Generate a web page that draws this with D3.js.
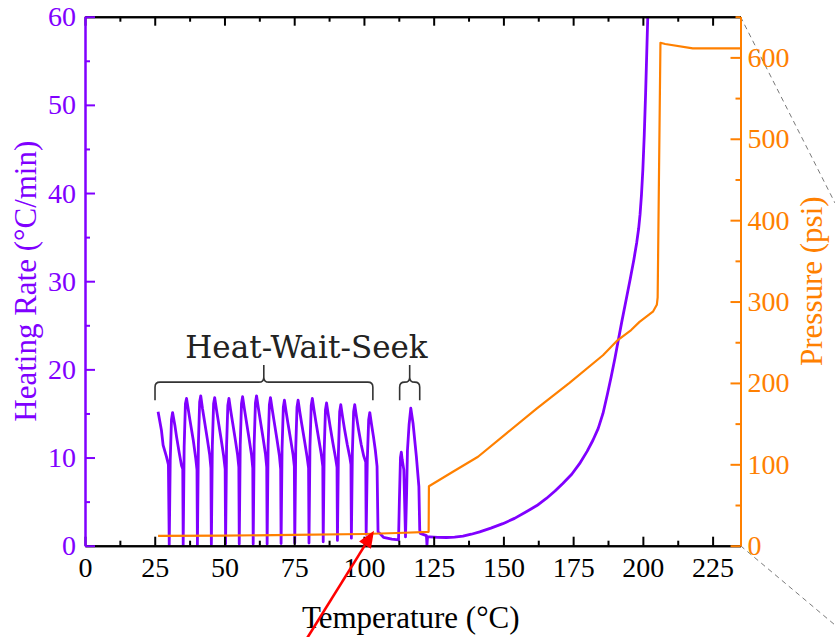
<!DOCTYPE html>
<html>
<head>
<meta charset="utf-8">
<script src="https://cdn.jsdelivr.net/npm/d3@7"></script>
<style>
  html, body { margin: 0; padding: 0; background: #fff; }
  svg { display: block; }
</style>
</head>
<body>
<svg id="chart" width="835" height="637"></svg>
<script>
// ---- Heating rate (°C/min) vs temperature (°C) ----
// Heat-Wait-Seek oscillations: each cycle heats to a peak, decays, then drops to ~0
const hwsRate = [
  [26.2,15.2],[27.4,13.1],[28.0,11.4],[29.2,10.1],[29.9,9.2],[30.2,0.1],
  [30.55,9.6],[31.0,14.3],[31.4,15.1],
  [32.2,13.7],[32.8,12.4],[33.8,10.5],[34.6,9.1],[35.05,8.7],[35.2,0.1],
  [35.55,11.2],[36.0,16.1],[36.4,16.7],
  [37.6,14.3],[38.8,12.0],[39.7,9.9],[40.15,8.6],[40.3,0.1],
  [40.65,11.5],[41.1,16.3],[41.5,17.0],
  [42.1,15.6],[42.8,14.2],[43.8,12.2],[44.7,10.3],[45.15,8.8],[45.3,0.15],
  [45.65,11.3],[46.1,16.1],[46.5,16.8],
  [47.1,15.5],[47.8,14.1],[48.8,12.1],[49.7,10.2],[50.25,8.7],[50.4,0.15],
  [50.75,11.2],[51.2,15.9],[51.6,16.7],
  [52.2,15.4],[52.9,14.0],[53.9,12.0],[54.7,10.3],[55.15,8.9],[55.3,0.2],
  [55.65,11.4],[56.1,16.1],[56.5,16.9],
  [57.1,15.6],[57.8,14.2],[58.8,12.2],[59.7,10.3],[60.15,8.8],[60.3,0.2],
  [60.65,11.5],[61.1,16.2],[61.5,17.0],
  [62.1,15.7],[62.8,14.3],[63.8,12.3],[64.7,10.4],[65.15,8.9],[65.3,0.2],
  [65.65,11.3],[66.1,16.0],[66.5,16.8],
  [67.1,15.5],[67.8,14.1],[68.8,12.1],[69.7,10.2],[70.15,8.7],[70.3,0.25],
  [70.65,11.0],[71.1,15.7],[71.5,16.5],
  [72.1,15.2],[72.8,13.8],[73.8,11.9],[74.6,10.3],[75.05,9.0],[75.2,0.3],
  [75.55,11.0],[76.0,15.7],[76.4,16.5],
  [77.0,15.2],[77.7,13.8],[78.7,11.9],[79.6,10.1],[80.15,8.8],[80.3,0.3],
  [80.65,11.2],[81.1,15.9],[81.5,16.7],
  [82.1,15.4],[82.8,14.0],[83.8,12.1],[84.7,10.4],[85.25,9.0],[85.4,0.45],
  [85.75,10.7],[86.2,15.4],[86.6,16.2],
  [87.2,14.9],[87.9,13.5],[88.9,11.6],[89.8,10.0],[90.35,8.9],[90.5,0.6],
  [90.85,10.5],[91.3,15.2],[91.7,16.0],
  [92.3,14.7],[93.0,13.3],[94.0,11.5],[94.9,10.1],[95.35,9.2],[95.5,0.85],
  [95.85,10.5],[96.3,15.2],[96.7,16.0],
  [97.3,14.7],[98.0,13.3],[99.0,11.5],[99.9,10.2],[100.65,9.5],[100.8,1.3],
  [101.2,9.6],[101.7,14.3],[102.1,15.1],
  [102.7,13.8],[103.4,12.4],[104.1,10.8],[104.7,9.0],[105.05,1.6]
];

// Wait period and the two short seek pulses before onset
const seekRate = [
  [107.0,0.95],[110.0,0.75],[112.4,0.65],[112.7,5.0],[113.1,10.0],[113.4,10.6],
  [113.7,9.8],[114.3,8.6],[114.9,1.0],[115.3,6.0],[115.6,10.8],[116.2,13.8],
  [116.8,15.6],[117.6,13.9],[118.8,10.1],[119.7,6.7],[120.0,1.8],[120.2,1.4],
  [122.4,1.15],[122.6,0.05],[122.8,1.0]
];

// Self-heating ramp after the exotherm is detected
const rampRate = [
  [123.6,1.0],[126.5,0.95],[129.6,0.93],[132.5,0.98],[135.5,1.08],[138.5,1.3],
  [141.5,1.57],[145.5,2.0],[149.8,2.5],[154.0,3.1],[158.2,3.85],[162.0,4.55],
  [165.4,5.36],[168.5,6.2],[171.3,7.06],[174.5,8.1],[177.3,9.3],[180.0,10.7],
  [182.1,11.96],[184.0,13.3],[185.7,15.0],[187.3,17.2],[188.6,19.1],[190.0,21.3],
  [191.0,23.0],[192.5,25.5],[194.0,27.9],[195.5,30.3],[196.8,32.5],[197.8,34.4],
  [198.5,36.0],[199.0,37.6],[199.5,39.8],[200.0,42.7],[200.5,46.6],[201.0,51.5],
  [201.4,56.0],[201.8,60.5]
];

// ---- Pressure (psi) vs temperature (°C) ----
const pressureLow = [
  [26.2,12.0],[50.0,12.5],[75.0,13.2],[100.0,14.4],[112.0,15.6],[123.2,17.0]
];
const pressureRamp = [
  [123.3,73.0],[131.9,90.9],[140.9,109.3],[151.1,138.1],[161.8,168.0],[173.7,200.0],
  [185.7,234.0],[191.0,252.7],[195.8,265.0],[198.8,275.0],[203.6,287.5],[205.0,296.0],
  [205.3,305.0]
];
const pressureHigh = [
  [206.3,618.0],[208.0,616.5],[217.9,611.0],[235.0,611.0]
];

// ---- Axis ticks ----
const tempTicks = [0, 25, 50, 75, 100, 125, 150, 175, 200, 225];
const tempMinor = [12.5, 37.5, 62.5, 87.5, 112.5, 137.5, 162.5, 187.5, 212.5];
const rateTicks = [0, 10, 20, 30, 40, 50, 60];
const rateMinor = [5, 15, 25, 35, 45, 55];
const pressTicks = [0, 100, 200, 300, 400, 500, 600];
const pressMinor = [50, 150, 250, 350, 450, 550, 650];

// ---- Annotations (data coordinates) ----
const hwsLabel = { text: "Heat-Wait-Seek", t: 79.4, v: 21.3 };
const braces = [
  { from: 25.1, to: 103.2, tip: 64.1 },
  { from: 112.8, to: 120.0, tip: 116.4 }
];
const braceLevels = { end: 16.5, bar: 18.55, top: 20.5 };
const onsetArrow = { from: [79.2, -10.7], to: [103.6, 1.7] };

const PURPLE = "#8000ff";
const ORANGE = "#ff8000";
const SERIF = "'Liberation Serif', 'Times New Roman', serif";

const svg = d3.select("#chart");
const W = 835, H = 637;
const L = 85, R = 740.5, T = 16.7, B = 545.7;

const x = d3.scaleLinear().domain([0, 235]).range([L, R]);
const yRate = d3.scaleLinear().domain([0, 60]).range([B, T]);
const yPress = d3.scaleLinear().domain([0, 650]).range([B, T]);

svg.append("defs").append("clipPath").attr("id", "plot-clip")
  .append("rect").attr("x", L).attr("y", T).attr("width", R - L).attr("height", B - T);

// Guide lines leading off the right edge
svg.append("g").attr("stroke", "#7a7a7a").attr("stroke-width", 1)
  .attr("stroke-dasharray", "5,4").attr("fill", "none")
  .selectAll("line")
  .data([[R, T, W, 203], [R, B, W, 625]])
  .join("line")
  .attr("x1", d => d[0]).attr("y1", d => d[1])
  .attr("x2", d => d[2]).attr("y2", d => d[3]);

// Data lines
const plot = svg.append("g").attr("clip-path", "url(#plot-clip)");
const rateLine = d3.line().x(d => x(d[0])).y(d => yRate(d[1]));
const pressLine = d3.line().x(d => x(d[0])).y(d => yPress(d[1]));

plot.append("path")
  .datum(hwsRate.concat(seekRate, rampRate))
  .attr("d", rateLine)
  .attr("fill", "none").attr("stroke", PURPLE)
  .attr("stroke-width", 2.8).attr("stroke-linejoin", "round");

plot.append("path")
  .datum(pressureLow.concat(pressureRamp, pressureHigh))
  .attr("d", pressLine)
  .attr("fill", "none").attr("stroke", ORANGE)
  .attr("stroke-width", 2.2).attr("stroke-linejoin", "round");

// Axes: ticks point into the plot
function styleAxis(g, color, fontSize) {
  g.select(".domain").attr("stroke", color).attr("stroke-width", 2);
  g.selectAll(".tick line").attr("stroke", color).attr("stroke-width", 2);
  g.selectAll(".tick text").attr("fill", color)
    .attr("font-family", SERIF).attr("font-size", fontSize);
}

const gx = svg.append("g").attr("transform", `translate(0,${B})`)
  .call(d3.axisBottom(x).tickValues(tempTicks).tickFormat(d3.format("d"))
    .tickSizeInner(-9).tickSizeOuter(0).tickPadding(11));
styleAxis(gx, "#000", 28);

const gxMinor = svg.append("g").attr("transform", `translate(0,${B})`)
  .call(d3.axisBottom(x).tickValues(tempMinor).tickFormat("")
    .tickSizeInner(-5).tickSizeOuter(0));
styleAxis(gxMinor, "#000", 0);

const gTop = svg.append("g").attr("transform", `translate(0,${T})`)
  .call(d3.axisTop(x).tickValues(tempTicks).tickFormat("")
    .tickSizeInner(-9).tickSizeOuter(0));
styleAxis(gTop, "#000", 0);
const gTopMinor = svg.append("g").attr("transform", `translate(0,${T})`)
  .call(d3.axisTop(x).tickValues(tempMinor).tickFormat("")
    .tickSizeInner(-5).tickSizeOuter(0));
styleAxis(gTopMinor, "#000", 0);

const gyL = svg.append("g").attr("transform", `translate(${L},0)`)
  .call(d3.axisLeft(yRate).tickValues(rateTicks).tickFormat(d3.format("d"))
    .tickSizeInner(-10).tickSizeOuter(0).tickPadding(9));
styleAxis(gyL, PURPLE, 28);
const gyLMinor = svg.append("g").attr("transform", `translate(${L},0)`)
  .call(d3.axisLeft(yRate).tickValues(rateMinor).tickFormat("")
    .tickSizeInner(-5).tickSizeOuter(0));
styleAxis(gyLMinor, PURPLE, 0);

const gyR = svg.append("g").attr("transform", `translate(${R},0)`)
  .call(d3.axisRight(yPress).tickValues(pressTicks).tickFormat(d3.format("d"))
    .tickSizeInner(-10).tickSizeOuter(0).tickPadding(7));
styleAxis(gyR, ORANGE, 28);
const gyRMinor = svg.append("g").attr("transform", `translate(${R},0)`)
  .call(d3.axisRight(yPress).tickValues(pressMinor).tickFormat("")
    .tickSizeInner(-5).tickSizeOuter(0));
styleAxis(gyRMinor, ORANGE, 0);

// Axis titles
svg.append("text")
  .attr("x", (L + R) / 2 - 2).attr("y", 628)
  .attr("text-anchor", "middle")
  .attr("font-family", SERIF).attr("font-size", 31).attr("fill", "#000")
  .text("Temperature (°C)");

svg.append("text")
  .attr("transform", `translate(36,${(T + B) / 2}) rotate(-90)`)
  .attr("text-anchor", "middle")
  .attr("font-family", SERIF).attr("font-size", 31).attr("fill", PURPLE)
  .text("Heating Rate (°C/min)");

svg.append("text")
  .attr("transform", `translate(822,${(T + B) / 2}) rotate(-90)`)
  .attr("text-anchor", "middle")
  .attr("font-family", SERIF).attr("font-size", 31).attr("fill", ORANGE)
  .text("Pressure (psi)");

// Curly braces over the heat-wait-seek cycles
function bracePath(b) {
  const x1 = x(b.from), x2 = x(b.to), xm = x(b.tip);
  const ye = yRate(braceLevels.end), yb = yRate(braceLevels.bar), yt = yRate(braceLevels.top);
  const r = Math.min(5, (xm - x1) / 2);
  return `M${x1},${ye} L${x1},${yb + r} Q${x1},${yb} ${x1 + r},${yb}` +
         ` L${xm - r},${yb} Q${xm},${yb} ${xm},${yb - r} L${xm},${yt}` +
         ` M${xm},${yb - r} Q${xm},${yb} ${xm + r},${yb}` +
         ` L${x2 - r},${yb} Q${x2},${yb} ${x2},${yb + r} L${x2},${ye}`;
}
svg.append("g").selectAll("path").data(braces).join("path")
  .attr("d", bracePath)
  .attr("fill", "none").attr("stroke", "#333").attr("stroke-width", 1.6);

svg.append("text")
  .attr("x", x(hwsLabel.t)).attr("y", yRate(hwsLabel.v))
  .attr("text-anchor", "middle")
  .attr("font-family", "'DejaVu Serif', serif").attr("font-size", 31)
  .attr("fill", "#222")
  .text(hwsLabel.text);

// Arrow marking the onset
const ax1 = x(onsetArrow.from[0]), ay1 = yRate(onsetArrow.from[1]);
const ax2 = x(onsetArrow.to[0]), ay2 = yRate(onsetArrow.to[1]);
const ang = Math.atan2(ay2 - ay1, ax2 - ax1);
const headLen = 17, headHalf = 7;
const bx = ax2 - headLen * Math.cos(ang), by = ay2 - headLen * Math.sin(ang);
svg.append("line")
  .attr("x1", ax1).attr("y1", ay1).attr("x2", bx).attr("y2", by)
  .attr("stroke", "#ff0000").attr("stroke-width", 2.6);
svg.append("path")
  .attr("d", `M${ax2},${ay2} L${bx + headHalf * Math.sin(ang)},${by - headHalf * Math.cos(ang)}` +
             ` L${bx - headHalf * Math.sin(ang)},${by + headHalf * Math.cos(ang)} Z`)
  .attr("fill", "#ff0000");
</script>
</body>
</html>
